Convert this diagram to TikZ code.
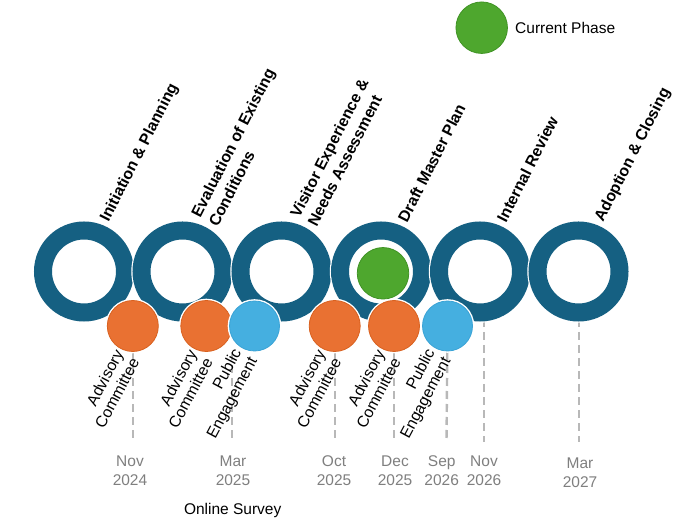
\documentclass[tikz,border=0pt]{standalone}
\usepackage{fontspec}
\setmainfont{Liberation Sans}
\definecolor{ringblue}{HTML}{156082}
\definecolor{orangefill}{HTML}{E97132}
\definecolor{orangeline}{HTML}{D9611F}
\definecolor{bluefill}{HTML}{45AFE0}
\definecolor{blueline}{HTML}{3AA3D6}
\definecolor{greenfill}{HTML}{4EA72E}
\definecolor{greenline}{HTML}{3F9324}
\definecolor{dategray}{HTML}{7F7F7F}
\definecolor{dashgray}{HTML}{B8B8B8}
\pgfdeclarelayer{bg}
\pgfsetlayers{bg,main}
\begin{document}
\begin{tikzpicture}[x=1pt,y=1pt,
  ringnode/.style={circle, inner sep=0, minimum size=82pt, draw=white, line width=1.2pt, double=ringblue, double distance=18pt},
  dot/.style={circle, inner sep=0, minimum size=#1, line width=0.8pt, preaction={draw=white, line width=3.6pt}},
  orangedot/.style={dot=51pt, fill=orangefill, draw=orangeline},
  bluedot/.style={dot=50pt, fill=bluefill, draw=blueline},
  greendot/.style={dot=51.5pt, fill=greenfill, draw=greenline},
  phaselabel/.style={rotate=63, anchor=west, align=left, inner sep=0, font=\fontsize{15.8}{19.5}\selectfont\bfseries},
  sublabel/.style={rotate=62, anchor=east, align=right, inner sep=0, font=\fontsize{15.8}{18}\selectfont},
  datelabel/.style={align=center, inner sep=0, text=dategray, font=\fontsize{15.5}{19}\selectfont},
  dashline/.style={draw=dashgray, line width=2.4pt, dash pattern=on 8pt off 5pt}
]
\useasboundingbox (0,0) rectangle (700,519);

% legend
\node[greendot] (legdot) at (481.7,491.3) {};
\node[anchor=west, inner sep=0, font=\fontsize{15.5}{19}\selectfont] (legtext) at (515,491) {Current Phase};

% rings
\node[ringnode] (r1) at (84,247.5) {};
\node[ringnode] (r2) at (182.5,247.5) {};
\node[ringnode] (r3) at (281.5,247.5) {};
\node[ringnode] (r4) at (381,247.5) {};
\node[ringnode] (r5) at (480,247.5) {};
\node[ringnode] (r6) at (578.5,247.5) {};
\node[greendot] (cur) at (383,245.7) {};

% phase labels
\node[phaselabel] (p1) at (105,298) {Initiation \& Planning};
\node[phaselabel] (p2) at (204,298) {Evaluation of Existing\\Conditions};
\node[phaselabel] (p3) at (303,298) {Visitor Experience \&\\Needs Assessment};
\node[phaselabel] (p4) at (402,298) {Draft Master Plan};
\node[phaselabel] (p5) at (501,298) {Internal Review};
\node[phaselabel] (p6) at (599.5,298) {Adoption \& Closing};

% event dots
\node[orangedot] (o1) at (132.8,193) {};
\node[orangedot] (o2) at (206.3,193) {};
\node[bluedot] (b1) at (254.5,193) {};
\node[orangedot] (o3) at (334.7,193) {};
\node[orangedot] (o4) at (394,193) {};
\node[bluedot] (b2) at (447.5,193) {};

% dashed line ends
\coordinate (t2) at (232,167);
\coordinate (t5) at (483.7,200);
\coordinate (t6) at (579,200);
\coordinate (e1) at (132.8,77);
\coordinate (e2) at (232,77);
\coordinate (e3) at (334.7,77);
\coordinate (e4) at (394,77);
\coordinate (e5) at (446.5,77);
\coordinate (e6) at (483.7,77);
\coordinate (e7) at (579,77);
\begin{pgfonlayer}{bg}
\draw[dashline] (o1.center) -- (e1);
\draw[dashline] (t2) -- (e2);
\draw[dashline] (o3.center) -- (e3);
\draw[dashline] (o4.center) -- (e4);
\draw[dashline] (b2.center) -- (e5);
\draw[dashline] (t5) -- (e6);
\draw[dashline] (t6) -- (e7);
\end{pgfonlayer}

% sub labels
\node[sublabel] (s1) at (127,164) {Advisory\\Committee};
\node[sublabel] (s2) at (200.5,164) {Advisory\\Committee};
\node[sublabel] (s3) at (246,164.5) {Public\\Engagement};
\node[sublabel] (s4) at (329,164) {Advisory\\Committee};
\node[sublabel] (s5) at (388.3,164) {Advisory\\Committee};
\node[sublabel] (s6) at (439.5,164.5) {Public\\Engagement};

% dates
\node[datelabel] (d1) at (130,48.5) {Nov\\2024};
\node[datelabel] (d2) at (233,48.5) {Mar\\2025};
\node[datelabel] (d3) at (334,48.5) {Oct\\2025};
\node[datelabel] (d4) at (395,48.5) {Dec\\2025};
\node[datelabel] (d5) at (441.7,48.5) {Sep\\2026};
\node[datelabel] (d6) at (484,48.5) {Nov\\2026};
\node[datelabel] (d7) at (580,46) {Mar\\2027};

\node[inner sep=0, font=\fontsize{15.5}{19}\selectfont] (survey) at (232.7,8.3) {Online Survey};
\end{tikzpicture}
\end{document}
